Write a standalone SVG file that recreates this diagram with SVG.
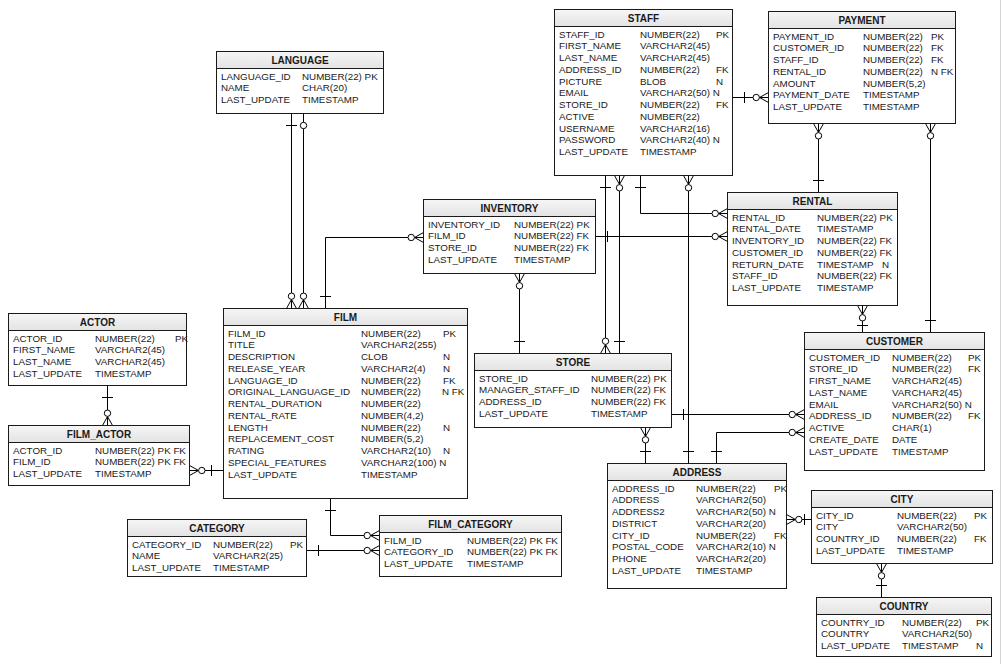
<svg xmlns="http://www.w3.org/2000/svg" width="1002" height="664" viewBox="0 0 1002 664">
<style>
.box{fill:#fff;stroke:#1a1a1a;stroke-width:1}
.hdr{fill:url(#hg);stroke:#1a1a1a;stroke-width:1}
text{font-family:"Liberation Sans",Arial,sans-serif;font-size:9.8px;fill:#1a1a1a}
.ttl{font-weight:bold;font-size:10px;text-anchor:middle}
.cn{fill:none;stroke:#000;stroke-width:1}
.m{fill:none;stroke:#000;stroke-width:1}
.mc{fill:#fff;stroke:#000;stroke-width:1}
</style>
<defs>
<linearGradient id="hg" x1="0" y1="0" x2="0" y2="1"><stop offset="0" stop-color="#f6f6f6"/><stop offset="1" stop-color="#e3e3e3"/></linearGradient>
<marker id="many" viewBox="-20 -8 21 16" refX="0" refY="0" markerWidth="21" markerHeight="16" markerUnits="userSpaceOnUse" orient="auto-start-reverse"><path class="m" d="M-9,0 L0,-5 M-9,0 L0,5"/><circle class="mc" cx="-12.3" cy="0" r="3.2"/></marker>
<marker id="one" viewBox="-20 -8 21 16" refX="0" refY="0" markerWidth="21" markerHeight="16" markerUnits="userSpaceOnUse" orient="auto-start-reverse"><path class="m" d="M-12,-5.5 L-12,5.5"/></marker>
<marker id="onen" viewBox="-20 -8 21 16" refX="0" refY="0" markerWidth="21" markerHeight="16" markerUnits="userSpaceOnUse" orient="auto-start-reverse"><path class="m" d="M-7,-5.5 L-7,5.5"/></marker>
<marker id="zero" viewBox="-20 -8 21 16" refX="0" refY="0" markerWidth="21" markerHeight="16" markerUnits="userSpaceOnUse" orient="auto-start-reverse"><circle class="mc" cx="-12" cy="0" r="3.2"/></marker>
</defs>
<rect width="1002" height="664" fill="#fff"/>
<line x1="1000.5" y1="0" x2="1000.5" y2="664" stroke="#d4d4d4"/>

<g id="connectors">
<path class="cn" d="M291.5,113.5 V308.5" marker-start="url(#one)" marker-end="url(#many)"/>
<path class="cn" d="M303.5,113.5 V308.5" marker-start="url(#zero)" marker-end="url(#many)"/>
<path class="cn" d="M325.5,308.5 V237.5 H423.5" marker-start="url(#one)" marker-end="url(#many)"/>
<path class="cn" d="M107.5,385.5 V425.5" marker-start="url(#one)" marker-end="url(#many)"/>
<path class="cn" d="M223.5,470.5 H189.5" marker-start="url(#one)" marker-end="url(#many)"/>
<path class="cn" d="M330.5,498.5 V535.5 H379.5" marker-start="url(#one)" marker-end="url(#many)"/>
<path class="cn" d="M306.5,550.5 H379.5" marker-start="url(#one)" marker-end="url(#many)"/>
<path class="cn" d="M519.5,353.5 V273.5" marker-start="url(#one)" marker-end="url(#many)"/>
<path class="cn" d="M595.5,236.5 H727.5" marker-start="url(#one)" marker-end="url(#many)"/>
<path class="cn" d="M640.5,175.5 V213.5 H727.5" marker-start="url(#one)" marker-end="url(#many)"/>
<path class="cn" d="M732.5,97.5 H768.5" marker-start="url(#one)" marker-end="url(#many)"/>
<path class="cn" d="M605.5,175.5 V353.5" marker-start="url(#one)" marker-end="url(#many)"/>
<path class="cn" d="M619.5,353.5 V175.5" marker-start="url(#one)" marker-end="url(#many)"/>
<path class="cn" d="M688.5,463.5 V175.5" marker-start="url(#one)" marker-end="url(#many)"/>
<path class="cn" d="M645.5,463.5 V427.5" marker-start="url(#one)" marker-end="url(#many)"/>
<path class="cn" d="M671.5,414.5 H804.5" marker-start="url(#one)" marker-end="url(#many)"/>
<path class="cn" d="M716.5,463.5 V432.5 H804.5" marker-start="url(#one)" marker-end="url(#many)"/>
<path class="cn" d="M811.5,519.5 H786.5" marker-start="url(#onen)" marker-end="url(#many)"/>
<path class="cn" d="M881.5,597.5 V563.5" marker-start="url(#one)" marker-end="url(#many)"/>
<path class="cn" d="M818.5,192.5 V123.5" marker-start="url(#one)" marker-end="url(#many)"/>
<path class="cn" d="M930.5,332.5 V123.5" marker-start="url(#one)" marker-end="url(#many)"/>
<path class="cn" d="M862.5,332.5 V305.5" marker-start="url(#onen)" marker-end="url(#many)"/>
</g>

<g id="staff">
<rect class="box" x="554.5" y="9.5" width="178" height="166"/>
<rect class="hdr" x="554.5" y="9.5" width="178" height="17"/>
<text class="ttl" x="643.5" y="22">STAFF</text>
<text y="37.6"><tspan x="559">STAFF_ID</tspan><tspan x="640">NUMBER(22)</tspan><tspan x="716">PK</tspan></text>
<text y="49.4"><tspan x="559">FIRST_NAME</tspan><tspan x="640">VARCHAR2(45)</tspan></text>
<text y="61.1"><tspan x="559">LAST_NAME</tspan><tspan x="640">VARCHAR2(45)</tspan></text>
<text y="72.9"><tspan x="559">ADDRESS_ID</tspan><tspan x="640">NUMBER(22)</tspan><tspan x="716">FK</tspan></text>
<text y="84.6"><tspan x="559">PICTURE</tspan><tspan x="640">BLOB</tspan><tspan x="716">N</tspan></text>
<text y="96.4"><tspan x="559">EMAIL</tspan><tspan x="640">VARCHAR2(50) N</tspan></text>
<text y="108.1"><tspan x="559">STORE_ID</tspan><tspan x="640">NUMBER(22)</tspan><tspan x="716">FK</tspan></text>
<text y="119.9"><tspan x="559">ACTIVE</tspan><tspan x="640">NUMBER(22)</tspan></text>
<text y="131.6"><tspan x="559">USERNAME</tspan><tspan x="640">VARCHAR2(16)</tspan></text>
<text y="143.4"><tspan x="559">PASSWORD</tspan><tspan x="640">VARCHAR2(40) N</tspan></text>
<text y="155.1"><tspan x="559">LAST_UPDATE</tspan><tspan x="640">TIMESTAMP</tspan></text>
</g>

<g id="payment">
<rect class="box" x="768.5" y="11.5" width="187" height="112"/>
<rect class="hdr" x="768.5" y="11.5" width="187" height="17"/>
<text class="ttl" x="862" y="24">PAYMENT</text>
<text y="39.6"><tspan x="773">PAYMENT_ID</tspan><tspan x="863">NUMBER(22)</tspan><tspan x="931">PK</tspan></text>
<text y="51.4"><tspan x="773">CUSTOMER_ID</tspan><tspan x="863">NUMBER(22)</tspan><tspan x="931">FK</tspan></text>
<text y="63.1"><tspan x="773">STAFF_ID</tspan><tspan x="863">NUMBER(22)</tspan><tspan x="931">FK</tspan></text>
<text y="74.9"><tspan x="773">RENTAL_ID</tspan><tspan x="863">NUMBER(22)</tspan><tspan x="931">N FK</tspan></text>
<text y="86.6"><tspan x="773">AMOUNT</tspan><tspan x="863">NUMBER(5,2)</tspan></text>
<text y="98.4"><tspan x="773">PAYMENT_DATE</tspan><tspan x="863">TIMESTAMP</tspan></text>
<text y="110.1"><tspan x="773">LAST_UPDATE</tspan><tspan x="863">TIMESTAMP</tspan></text>
</g>

<g id="language">
<rect class="box" x="216.5" y="51.5" width="167" height="62"/>
<rect class="hdr" x="216.5" y="51.5" width="167" height="17"/>
<text class="ttl" x="300" y="64">LANGUAGE</text>
<text y="79.6"><tspan x="221">LANGUAGE_ID</tspan><tspan x="302">NUMBER(22) PK</tspan></text>
<text y="91.4"><tspan x="221">NAME</tspan><tspan x="302">CHAR(20)</tspan></text>
<text y="103.1"><tspan x="221">LAST_UPDATE</tspan><tspan x="302">TIMESTAMP</tspan></text>
</g>

<g id="inventory">
<rect class="box" x="423.5" y="199.5" width="172" height="74"/>
<rect class="hdr" x="423.5" y="199.5" width="172" height="17"/>
<text class="ttl" x="509.5" y="212">INVENTORY</text>
<text y="227.6"><tspan x="428">INVENTORY_ID</tspan><tspan x="514">NUMBER(22) PK</tspan></text>
<text y="239.4"><tspan x="428">FILM_ID</tspan><tspan x="514">NUMBER(22) FK</tspan></text>
<text y="251.1"><tspan x="428">STORE_ID</tspan><tspan x="514">NUMBER(22) FK</tspan></text>
<text y="262.9"><tspan x="428">LAST_UPDATE</tspan><tspan x="514">TIMESTAMP</tspan></text>
</g>

<g id="rental">
<rect class="box" x="727.5" y="192.5" width="170" height="113"/>
<rect class="hdr" x="727.5" y="192.5" width="170" height="17"/>
<text class="ttl" x="812.5" y="205">RENTAL</text>
<text y="220.6"><tspan x="732">RENTAL_ID</tspan><tspan x="817">NUMBER(22) PK</tspan></text>
<text y="232.4"><tspan x="732">RENTAL_DATE</tspan><tspan x="817">TIMESTAMP</tspan></text>
<text y="244.1"><tspan x="732">INVENTORY_ID</tspan><tspan x="817">NUMBER(22) FK</tspan></text>
<text y="255.9"><tspan x="732">CUSTOMER_ID</tspan><tspan x="817">NUMBER(22) FK</tspan></text>
<text y="267.6"><tspan x="732">RETURN_DATE</tspan><tspan x="817">TIMESTAMP</tspan><tspan x="882">N</tspan></text>
<text y="279.4"><tspan x="732">STAFF_ID</tspan><tspan x="817">NUMBER(22) FK</tspan></text>
<text y="291.1"><tspan x="732">LAST_UPDATE</tspan><tspan x="817">TIMESTAMP</tspan></text>
</g>

<g id="film">
<rect class="box" x="223.5" y="308.5" width="244" height="190"/>
<rect class="hdr" x="223.5" y="308.5" width="244" height="17"/>
<text class="ttl" x="345.5" y="321">FILM</text>
<text y="336.6"><tspan x="228">FILM_ID</tspan><tspan x="361">NUMBER(22)</tspan><tspan x="443">PK</tspan></text>
<text y="348.4"><tspan x="228">TITLE</tspan><tspan x="361">VARCHAR2(255)</tspan></text>
<text y="360.1"><tspan x="228">DESCRIPTION</tspan><tspan x="361">CLOB</tspan><tspan x="443">N</tspan></text>
<text y="371.9"><tspan x="228">RELEASE_YEAR</tspan><tspan x="361">VARCHAR2(4)</tspan><tspan x="443">N</tspan></text>
<text y="383.6"><tspan x="228">LANGUAGE_ID</tspan><tspan x="361">NUMBER(22)</tspan><tspan x="443">FK</tspan></text>
<text y="395.4"><tspan x="228">ORIGINAL_LANGUAGE_ID</tspan><tspan x="361">NUMBER(22)</tspan><tspan x="442">N FK</tspan></text>
<text y="407.1"><tspan x="228">RENTAL_DURATION</tspan><tspan x="361">NUMBER(22)</tspan></text>
<text y="418.9"><tspan x="228">RENTAL_RATE</tspan><tspan x="361">NUMBER(4,2)</tspan></text>
<text y="430.6"><tspan x="228">LENGTH</tspan><tspan x="361">NUMBER(22)</tspan><tspan x="443">N</tspan></text>
<text y="442.4"><tspan x="228">REPLACEMENT_COST</tspan><tspan x="361">NUMBER(5,2)</tspan></text>
<text y="454.1"><tspan x="228">RATING</tspan><tspan x="361">VARCHAR2(10)</tspan><tspan x="443">N</tspan></text>
<text y="465.9"><tspan x="228">SPECIAL_FEATURES</tspan><tspan x="361">VARCHAR2(100) N</tspan></text>
<text y="477.6"><tspan x="228">LAST_UPDATE</tspan><tspan x="361">TIMESTAMP</tspan></text>
</g>

<g id="store">
<rect class="box" x="474.5" y="353.5" width="197" height="74"/>
<rect class="hdr" x="474.5" y="353.5" width="197" height="17"/>
<text class="ttl" x="573" y="366">STORE</text>
<text y="381.6"><tspan x="479">STORE_ID</tspan><tspan x="591">NUMBER(22) PK</tspan></text>
<text y="393.4"><tspan x="479">MANAGER_STAFF_ID</tspan><tspan x="591">NUMBER(22) FK</tspan></text>
<text y="405.1"><tspan x="479">ADDRESS_ID</tspan><tspan x="591">NUMBER(22) FK</tspan></text>
<text y="416.9"><tspan x="479">LAST_UPDATE</tspan><tspan x="591">TIMESTAMP</tspan></text>
</g>

<g id="customer">
<rect class="box" x="804.5" y="332.5" width="180" height="138"/>
<rect class="hdr" x="804.5" y="332.5" width="180" height="17"/>
<text class="ttl" x="894.5" y="345">CUSTOMER</text>
<text y="360.6"><tspan x="809">CUSTOMER_ID</tspan><tspan x="892">NUMBER(22)</tspan><tspan x="968">PK</tspan></text>
<text y="372.4"><tspan x="809">STORE_ID</tspan><tspan x="892">NUMBER(22)</tspan><tspan x="968">FK</tspan></text>
<text y="384.1"><tspan x="809">FIRST_NAME</tspan><tspan x="892">VARCHAR2(45)</tspan></text>
<text y="395.9"><tspan x="809">LAST_NAME</tspan><tspan x="892">VARCHAR2(45)</tspan></text>
<text y="407.6"><tspan x="809">EMAIL</tspan><tspan x="892">VARCHAR2(50) N</tspan></text>
<text y="419.4"><tspan x="809">ADDRESS_ID</tspan><tspan x="892">NUMBER(22)</tspan><tspan x="968">FK</tspan></text>
<text y="431.1"><tspan x="809">ACTIVE</tspan><tspan x="892">CHAR(1)</tspan></text>
<text y="442.9"><tspan x="809">CREATE_DATE</tspan><tspan x="892">DATE</tspan></text>
<text y="454.6"><tspan x="809">LAST_UPDATE</tspan><tspan x="892">TIMESTAMP</tspan></text>
</g>

<g id="address">
<rect class="box" x="607.5" y="463.5" width="179" height="125"/>
<rect class="hdr" x="607.5" y="463.5" width="179" height="17"/>
<text class="ttl" x="697" y="476">ADDRESS</text>
<text y="491.6"><tspan x="612">ADDRESS_ID</tspan><tspan x="696">NUMBER(22)</tspan><tspan x="774">PK</tspan></text>
<text y="503.4"><tspan x="612">ADDRESS</tspan><tspan x="696">VARCHAR2(50)</tspan></text>
<text y="515.1"><tspan x="612">ADDRESS2</tspan><tspan x="696">VARCHAR2(50) N</tspan></text>
<text y="526.9"><tspan x="612">DISTRICT</tspan><tspan x="696">VARCHAR2(20)</tspan></text>
<text y="538.6"><tspan x="612">CITY_ID</tspan><tspan x="696">NUMBER(22)</tspan><tspan x="774">FK</tspan></text>
<text y="550.4"><tspan x="612">POSTAL_CODE</tspan><tspan x="696">VARCHAR2(10) N</tspan></text>
<text y="562.1"><tspan x="612">PHONE</tspan><tspan x="696">VARCHAR2(20)</tspan></text>
<text y="573.9"><tspan x="612">LAST_UPDATE</tspan><tspan x="696">TIMESTAMP</tspan></text>
</g>

<g id="city">
<rect class="box" x="811.5" y="490.5" width="181" height="73"/>
<rect class="hdr" x="811.5" y="490.5" width="181" height="17"/>
<text class="ttl" x="902" y="503">CITY</text>
<text y="518.6"><tspan x="816">CITY_ID</tspan><tspan x="897">NUMBER(22)</tspan><tspan x="974">PK</tspan></text>
<text y="530.4"><tspan x="816">CITY</tspan><tspan x="897">VARCHAR2(50)</tspan></text>
<text y="542.1"><tspan x="816">COUNTRY_ID</tspan><tspan x="897">NUMBER(22)</tspan><tspan x="974">FK</tspan></text>
<text y="553.9"><tspan x="816">LAST_UPDATE</tspan><tspan x="897">TIMESTAMP</tspan></text>
</g>

<g id="country">
<rect class="box" x="816.5" y="597.5" width="175" height="59"/>
<rect class="hdr" x="816.5" y="597.5" width="175" height="17"/>
<text class="ttl" x="904" y="610">COUNTRY</text>
<text y="625.6"><tspan x="821">COUNTRY_ID</tspan><tspan x="902">NUMBER(22)</tspan><tspan x="976">PK</tspan></text>
<text y="637.4"><tspan x="821">COUNTRY</tspan><tspan x="902">VARCHAR2(50)</tspan></text>
<text y="649.1"><tspan x="821">LAST_UPDATE</tspan><tspan x="902">TIMESTAMP</tspan><tspan x="976">N</tspan></text>
</g>

<g id="actor">
<rect class="box" x="8.5" y="313.5" width="178" height="72"/>
<rect class="hdr" x="8.5" y="313.5" width="178" height="17"/>
<text class="ttl" x="97.5" y="326">ACTOR</text>
<text y="341.6"><tspan x="13">ACTOR_ID</tspan><tspan x="95">NUMBER(22)</tspan><tspan x="175">PK</tspan></text>
<text y="353.4"><tspan x="13">FIRST_NAME</tspan><tspan x="95">VARCHAR2(45)</tspan></text>
<text y="365.1"><tspan x="13">LAST_NAME</tspan><tspan x="95">VARCHAR2(45)</tspan></text>
<text y="376.9"><tspan x="13">LAST_UPDATE</tspan><tspan x="95">TIMESTAMP</tspan></text>
</g>

<g id="film_actor">
<rect class="box" x="8.5" y="425.5" width="181" height="60"/>
<rect class="hdr" x="8.5" y="425.5" width="181" height="17"/>
<text class="ttl" x="99" y="438">FILM_ACTOR</text>
<text y="453.6"><tspan x="13">ACTOR_ID</tspan><tspan x="95">NUMBER(22) PK FK</tspan></text>
<text y="465.4"><tspan x="13">FILM_ID</tspan><tspan x="95">NUMBER(22) PK FK</tspan></text>
<text y="477.1"><tspan x="13">LAST_UPDATE</tspan><tspan x="95">TIMESTAMP</tspan></text>
</g>

<g id="category">
<rect class="box" x="127.5" y="519.5" width="179" height="57"/>
<rect class="hdr" x="127.5" y="519.5" width="179" height="17"/>
<text class="ttl" x="217" y="532">CATEGORY</text>
<text y="547.6"><tspan x="132">CATEGORY_ID</tspan><tspan x="213">NUMBER(22)</tspan><tspan x="290">PK</tspan></text>
<text y="559.4"><tspan x="132">NAME</tspan><tspan x="213">VARCHAR2(25)</tspan></text>
<text y="571.1"><tspan x="132">LAST_UPDATE</tspan><tspan x="213">TIMESTAMP</tspan></text>
</g>

<g id="film_category">
<rect class="box" x="379.5" y="515.5" width="182" height="61"/>
<rect class="hdr" x="379.5" y="515.5" width="182" height="17"/>
<text class="ttl" x="470.5" y="528">FILM_CATEGORY</text>
<text y="543.6"><tspan x="384">FILM_ID</tspan><tspan x="467">NUMBER(22) PK FK</tspan></text>
<text y="555.4"><tspan x="384">CATEGORY_ID</tspan><tspan x="467">NUMBER(22) PK FK</tspan></text>
<text y="567.1"><tspan x="384">LAST_UPDATE</tspan><tspan x="467">TIMESTAMP</tspan></text>
</g>
</svg>
